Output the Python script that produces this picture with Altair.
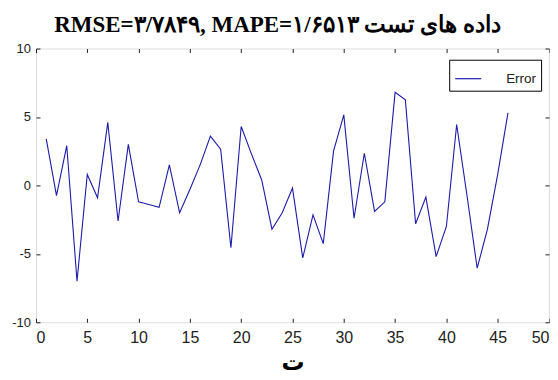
import altair as alt
import pandas as pd

# ---- data ----
sample = list(range(1, 47))
error = [3.4, -0.75, 2.9, -7.0, 0.8, -0.9, 4.6, -2.6, 3.0, -1.2,
         -1.4, -1.6, 1.5, -2.0, -0.3, 1.5, 3.6, 2.65, -4.55, 4.3,
         2.3, 0.4, -3.2, -2.0, -0.2, -5.3, -2.15, -4.25, 2.5, 5.15,
         -2.4, 2.35, -1.9, -1.2, 6.8, 6.25, -2.8, -0.85, -5.2, -3.0,
         4.45, -0.7, -6.05, -3.2, 0.8, 5.3]
series_name = ["Error"]
x_ticks = [0, 5, 10, 15, 20, 25, 30, 35, 40, 45, 50]
y_ticks = [-10, -5, 0, 5, 10]
title_text = "RMSE=۳/۷۸۴۹, MAPE=۱/۶۵۱۳ داده های تست"
x_title = "ت"

df = pd.DataFrame({"x": sample, "y": error, "series": series_name * len(sample)})

LINE = "#1c1ca8"
AXC = "#222222"
xs = alt.Scale(domain=[0, 50], nice=False, zero=False)
ys = alt.Scale(domain=[-10, 10], nice=False, zero=False)

bottom_axis = alt.Axis(values=x_ticks, grid=False, domain=False, tickSize=4, offset=-4,
                       tickColor=AXC, labelColor=AXC, labelFontSize=16,
                       labelFont="Liberation Sans Narrow, Arial Narrow, Liberation Sans",
                       labelPadding=7, labelExpr="'' + datum.value",
                       title=x_title, titleFont="DejaVu Sans", titleFontSize=23,
                       titleFontWeight="bold", titleColor="black", titlePadding=6)
left_axis = alt.Axis(values=y_ticks, grid=False, domain=False, tickSize=4, offset=-4,
                     tickColor=AXC, labelColor=AXC, labelFontSize=13,
                     labelFont="Liberation Sans Narrow, Arial Narrow, Liberation Sans",
                     labelPadding=5.5, labelExpr="'' + datum.value", title=None)
top_axis = alt.Axis(orient="top", values=x_ticks, grid=False, domain=False, tickSize=4,
                    offset=-4, tickColor=AXC, labels=False, title=None)
right_axis = alt.Axis(orient="right", values=y_ticks, grid=False, domain=False, tickSize=4,
                      offset=-4, tickColor=AXC, labels=False, title=None)

line = alt.Chart(df).mark_line(strokeWidth=1.1).encode(
    x=alt.X("x:Q", scale=xs, axis=bottom_axis),
    y=alt.Y("y:Q", scale=ys, axis=left_axis),
    color=alt.Color("series:N",
                    scale=alt.Scale(domain=series_name, range=[LINE]),
                    legend=alt.Legend(title=None, orient="none", legendX=413.6, legendY=11.2,
                                      symbolType="stroke", symbolSize=676,
                                      symbolStrokeWidth=1.2, strokeColor="black",
                                      fillColor="white", padding=5, labelFontSize=13.5,
                                      labelFont="Liberation Sans", labelColor=AXC,
                                      labelOffset=24)),
)

frame = alt.Chart(df).mark_line(opacity=0).encode(
    x=alt.X("x:Q", scale=xs, axis=top_axis),
    y=alt.Y("y:Q", scale=ys, axis=right_axis),
)

chart = alt.layer(line, frame).resolve_axis(x="independent", y="independent").properties(
    width=513.5,
    height=274,
    padding={"left": 3, "top": 5.4, "right": 0, "bottom": 8},
    title=alt.TitleParams(title_text, font="Liberation Serif", fontSize=23,
                          fontWeight="bold", color="black", anchor="middle",
                          offset=6, dx=-15),
).configure_view(stroke="black", strokeWidth=1).configure(background="white")

chart.save("out.html", embed_options={"renderer": "svg", "actions": False})
